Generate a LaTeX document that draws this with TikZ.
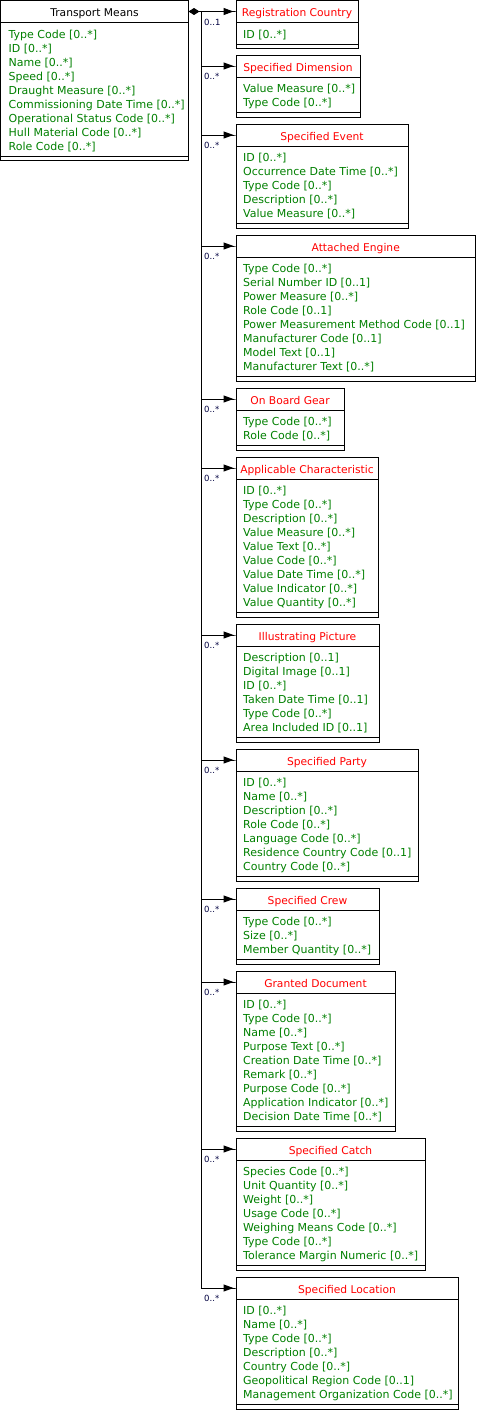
\documentclass[tikz,border=0pt]{standalone}
\usepackage{fontspec}
\setmainfont{DejaVu Sans}
\usetikzlibrary{arrows.meta,calc}
\definecolor{hdrred}{RGB}{255,0,0}
\definecolor{attrgreen}{RGB}{0,128,0}
\definecolor{multblue}{RGB}{0,0,64}
\tikzset{
  classbox/.style={draw, line width=1pt, inner sep=0pt, outer sep=0pt, fill=white},
  sepline/.style={line width=1pt},
  titletext/.style={font=\fontsize{10.7}{13}\selectfont, inner sep=0pt},
  attr/.style={font=\fontsize{11}{13}\selectfont, text=attrgreen, inner sep=0pt},
  mult/.style={font=\fontsize{8.5}{10}\selectfont, text=multblue, inner sep=0pt},
  assoc/.style={line width=1pt, -{Triangle[length=10pt,width=7pt]Rectangle[length=2.5pt,width=1pt]}},
  comp/.style={line width=1pt, {Diamond[length=11pt,width=7pt]}-{Triangle[length=10pt,width=7pt]Rectangle[length=2.5pt,width=1pt]}},
  busline/.style={line width=1pt},
}
\newcommand{\umlclass}[9]{%
  \node[classbox, minimum width=#4pt, minimum height=#5pt, anchor=north west] (#1) at (#2,#3) {};
  \draw[sepline] ([yshift=-22pt]#1.north west) -- ([yshift=-22pt]#1.north east);
  \draw[sepline] ([yshift=4.3pt]#1.south west) -- ([yshift=4.3pt]#1.south east);
  \node[titletext, text=#7, anchor=base] (#1-title) at ([yshift=-16pt]#1.north) {#6};
  \foreach \a [count=\i] in {#8} {
    \node[attr, anchor=base west] (#1-a\i) at ([xshift=#9pt, yshift={-(37.5+14*(\i-1))*1pt}]#1.north west) {\a};
  }
  \coordinate (#1-in) at ([yshift=-11pt]#1.north west);
}
\begin{document}
\begin{tikzpicture}[x=1pt,y=-1pt]
\useasboundingbox (0,0) rectangle (477,1424);
\umlclass{tm}{0.5}{0.5}{188}{160}{Transport Means}{black}{Type Code [0..*],ID [0..*],Name [0..*],Speed [0..*],Draught Measure [0..*],Commissioning Date Time [0..*],Operational Status Code [0..*],Hull Material Code [0..*],Role Code [0..*]}{8}
\umlclass{rc}{236}{0.5}{122}{48}{Registration Country}{hdrred}{ID [0..*]}{7}
\umlclass{sd}{236}{55}{124}{62}{Specified Dimension}{hdrred}{Value Measure [0..*],Type Code [0..*]}{7}
\umlclass{se}{236}{124}{172}{104}{Specified Event}{hdrred}{ID [0..*],Occurrence Date Time [0..*],Type Code [0..*],Description [0..*],Value Measure [0..*]}{7}
\umlclass{ae}{236}{235}{239.5}{146}{Attached Engine}{hdrred}{Type Code [0..*],Serial Number ID [0..1],Power Measure [0..*],Role Code [0..1],Power Measurement Method Code [0..1],Manufacturer Code [0..1],Model Text [0..1],Manufacturer Text [0..*]}{7}
\umlclass{obg}{236}{388}{108}{62}{On Board Gear}{hdrred}{Type Code [0..*],Role Code [0..*]}{7}
\umlclass{ac}{236}{457}{142}{160}{Applicable Characteristic}{hdrred}{ID [0..*],Type Code [0..*],Description [0..*],Value Measure [0..*],Value Text [0..*],Value Code [0..*],Value Date Time [0..*],Value Indicator [0..*],Value Quantity [0..*]}{7}
\umlclass{ip}{236}{624}{143}{118}{Illustrating Picture}{hdrred}{Description [0..1],Digital Image [0..1],ID [0..*],Taken Date Time [0..1],Type Code [0..*],Area Included ID [0..1]}{7}
\umlclass{sp}{236}{749}{182}{132}{Specified Party}{hdrred}{ID [0..*],Name [0..*],Description [0..*],Role Code [0..*],Language Code [0..*],Residence Country Code [0..1],Country Code [0..*]}{7}
\umlclass{scr}{236}{888}{143}{76}{Specified Crew}{hdrred}{Type Code [0..*],Size [0..*],Member Quantity [0..*]}{7}
\umlclass{gd}{236}{971}{159}{160}{Granted Document}{hdrred}{ID [0..*],Type Code [0..*],Name [0..*],Purpose Text [0..*],Creation Date Time [0..*],Remark [0..*],Purpose Code [0..*],Application Indicator [0..*],Decision Date Time [0..*]}{7}
\umlclass{sca}{236}{1138}{189}{132}{Specified Catch}{hdrred}{Species Code [0..*],Unit Quantity [0..*],Weight [0..*],Usage Code [0..*],Weighing Means Code [0..*],Type Code [0..*],Tolerance Margin Numeric [0..*]}{7}
\umlclass{sl}{236}{1277}{222}{132}{Specified Location}{hdrred}{ID [0..*],Name [0..*],Type Code [0..*],Description [0..*],Country Code [0..*],Geopolitical Region Code [0..1],Management Organization Code [0..*]}{7}
% bus
\coordinate (bus) at (201,11.5);
\draw[busline] (bus) -- (bus |- sl-in);
% composition to first
\draw[comp] ([yshift=-11pt]tm.north east) -- (rc-in);
\node[mult, anchor=west] (m-rc) at ($(bus |- rc-in)+(3,11)$) {0..1};
\foreach \b in {sd,se,ae,obg,ac,ip,sp,scr,gd,sca,sl} {
  \draw[assoc] (bus |- \b-in) -- (\b-in);
  \node[mult, anchor=west] (m-\b) at ($(bus |- \b-in)+(3,10)$) {0..*};
}
\end{tikzpicture}
\end{document}
